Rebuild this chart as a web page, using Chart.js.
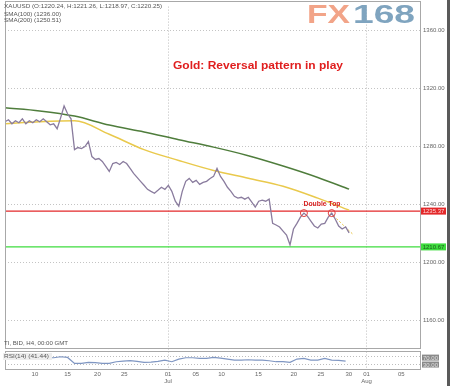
<!DOCTYPE html>
<html>
<head>
<meta charset="utf-8">
<script src="https://cdn.jsdelivr.net/npm/chart.js@4"></script>
<style>
  html, body { margin: 0; padding: 0; background: #fff; }
  canvas { display: block; }
</style>
</head>
<body>
<canvas id="chart" width="450" height="386"></canvas>
<script>
// x axis: one unit = one sample of the H4 series (about 3 bars)
const xTickPos = [8.6, 18.0, 26.6, 34.3, 46.9, 54.9, 62.3, 72.9, 83.1, 90.9, 98.9, 104.0, 114.0];
const xTickDay = ["10", "15", "20", "25", "01", "05", "10", "15", "20", "25", "30", "01", "05"];
const xTickMonth = ["", "", "", "", "Jul", "", "", "", "", "", "", "Aug", ""];
const priceTicks = [1160, 1200, 1240, 1280, 1320, 1360];

// XAUUSD price
const closes = [
  1297.0, 1298.4, 1295.6, 1297.7, 1296.3, 1299.0, 1295.6, 1297.7, 1296.3, 1298.4,
  1297.0, 1299.0, 1297.0, 1294.9, 1295.6, 1292.2, 1299.7, 1307.9, 1302.5, 1299.0,
  1277.8, 1279.2, 1278.5, 1279.9, 1283.3, 1273.0, 1271.0, 1271.6, 1269.6, 1266.2,
  1262.7, 1268.2, 1268.9, 1267.5, 1269.6, 1268.2, 1264.8, 1261.4, 1258.6, 1255.9,
  1253.2, 1250.4, 1249.0, 1247.7, 1249.7, 1251.8, 1250.4, 1253.2, 1249.0, 1242.2,
  1238.8, 1249.0, 1255.9, 1257.9, 1255.2, 1256.6, 1253.8, 1255.2, 1255.9, 1257.9,
  1259.3, 1264.8, 1259.3, 1255.9, 1251.8, 1249.0, 1245.6, 1244.3, 1244.9, 1243.6,
  1244.9, 1241.5, 1238.1, 1242.2, 1242.9, 1242.2, 1243.6, 1226.9, 1225.8, 1224.4,
  1221.6, 1218.9, 1212.1, 1223.0, 1226.9, 1231.2, 1234.0, 1231.9, 1228.5, 1225.1,
  1223.7, 1226.4, 1226.9, 1231.2, 1234.0, 1229.9, 1225.1, 1223.0, 1224.4, 1220.3
];

// moving averages, sampled every 10 samples
const smaIdx = [0, 10, 20, 30, 40, 50, 60, 70, 80, 90, 99];
const sma100 = [1295.6, 1297.0, 1297.7, 1288.4, 1277.8, 1270.3, 1263.4, 1258.0, 1252.5, 1244.3, 1236.0];
const sma200 = [1306.6, 1304.5, 1300.9, 1294.7, 1290.0, 1284.6, 1279.5, 1273.6, 1266.5, 1258.6, 1250.5];

// RSI(14), one value every 2 samples
const rsi = [
  66.7, 66.7, 68.0, 70.0, 73.0, 75.0, 61.7, 61.7, 66.7, 63.3,
  33.3, 33.3, 38.3, 36.7, 33.3, 33.3, 41.7, 45.0, 46.7, 43.3,
  38.3, 40.0, 43.3, 50.0, 41.7, 55.0, 61.7, 61.7, 58.3, 58.3,
  63.3, 60.0, 55.0, 50.0, 50.0, 51.7, 50.0, 50.0, 46.7, 41.7,
  41.7, 38.3, 55.0, 58.3, 50.0, 50.0, 58.3, 50.0, 48.3, 45.0
];

const resistance = 1235.37;
const support = 1210.67;
const doubleTopIdx = [86, 94];
const doubleTopPrice = [1234.0, 1234.0];
const trendIdx = [93.7, 100.3];
const trendPrice = [1234.0, 1218.9];

const xMax = 119.4;
const FONT = '"Liberation Sans", Arial, sans-serif';

// texte ajusté à une largeur donnée
function fitText(ctx, s, x, y, w, font, color, align) {
  ctx.save();
  ctx.font = font;
  ctx.fillStyle = color;
  ctx.textBaseline = "middle";
  ctx.textAlign = "left";
  const m = ctx.measureText(s).width;
  const k = w / m;
  const x0 = align === "center" ? x - w / 2 : x;
  ctx.translate(x0, y);
  ctx.scale(k, 1);
  ctx.fillText(s, 0, 0);
  ctx.restore();
}

function box(ctx, x, y, w, h, bg, s, color) {
  ctx.fillStyle = bg;
  ctx.fillRect(x, y - h / 2, w, h);
  ctx.font = "6px " + FONT;
  ctx.fillStyle = color;
  ctx.textAlign = "center";
  ctx.textBaseline = "middle";
  ctx.fillText(s, x + w / 2, y + 0.5);
}

const overlay = {
  id: "overlay",
  beforeDraw(chart) {
    const ctx = chart.ctx;
    ctx.save();
    ctx.fillStyle = "#fff";
    ctx.fillRect(0, 0, chart.width, chart.height);
    ctx.restore();
  },
  beforeDatasetsDraw(chart) {
    const ctx = chart.ctx;
    const ca = chart.chartArea;
    const r = chart.scales.yR;
    ctx.save();
    ctx.strokeStyle = "#bdbdbd";
    ctx.setLineDash([1, 2]);
    [70, 30].forEach((v) => {
      const y = Math.round(r.getPixelForValue(v)) + 0.5;
      ctx.beginPath();
      ctx.moveTo(ca.left, y);
      ctx.lineTo(ca.right, y);
      ctx.stroke();
    });
    ctx.restore();
  },
  afterDraw(chart) {
    const ctx = chart.ctx;
    const ca = chart.chartArea;
    const y = chart.scales.y;
    const r = chart.scales.yR;
    ctx.save();

    // panneaux
    ctx.strokeStyle = "#a8a8a8";
    ctx.lineWidth = 1;
    const mainBottom = Math.round(r.getPixelForValue(110));
    ctx.strokeRect(ca.left + 0.5, 1.5, ca.right - ca.left, mainBottom - 1);
    const rTop = Math.round(r.getPixelForValue(95));
    const rBot = Math.round(r.getPixelForValue(5));
    ctx.strokeRect(ca.left + 0.5, rTop + 0.5, ca.right - ca.left, rBot - rTop);
    ctx.fillStyle = "#5a5a5a";
    ctx.fillRect(447, 0, 3, chart.height);

    // infos en haut à gauche
    fitText(ctx, "XAUUSD (O:1220.24, H:1221.26, L:1218.97, C:1220.25)", 4, 6.5, 158, "6px " + FONT, "#555");
    fitText(ctx, "SMA(100) (1236.00)", 4, 14, 57, "6px " + FONT, "#555");
    fitText(ctx, "SMA(200) (1250.51)", 4, 20.5, 57, "6px " + FONT, "#555");
    fitText(ctx, "TI, BID, H4, 00:00 GMT", 4, 343.5, 64, "6px " + FONT, "#555");

    // RSI label
    ctx.fillStyle = "#eeeeee";
    ctx.fillRect(3, rTop + 2, 49, 7);
    fitText(ctx, "RSI(14) (41.44)", 4, rTop + 5.5, 45, "6px " + FONT, "#555");

    // logo
    ctx.font = "bold 25px " + FONT;
    ctx.textBaseline = "alphabetic";
    ctx.textAlign = "left";
    let w = ctx.measureText("FX").width;
    ctx.save();
    ctx.translate(307, 23);
    ctx.scale(43 / w, 1);
    ctx.fillStyle = "#f2a488";
    ctx.fillText("FX", 0, 0);
    ctx.restore();
    w = ctx.measureText("168").width;
    ctx.save();
    ctx.translate(353, 23);
    ctx.scale(62 / w, 1);
    ctx.fillStyle = "#7fa4bf";
    ctx.fillText("168", 0, 0);
    ctx.restore();

    // titre
    fitText(ctx, "Gold: Reversal pattern in play", 258, 66, 170, "bold 11px " + FONT, "#e01e1e", "center");
    fitText(ctx, "Double Top", 322, 204, 37, "bold 8px " + FONT, "#d82020", "center");

    // niveaux à droite
    box(ctx, 421, y.getPixelForValue(resistance), 25, 7, "#e3282a", resistance.toFixed(2), "#ffd6d6");
    box(ctx, 421, y.getPixelForValue(support), 25, 7, "#3edc3e", support.toFixed(2), "#1c5c1c");
    box(ctx, 422, r.getPixelForValue(70) + 1.5, 17, 6, "#8a8a8a", "70.00", "#e0e0e0");
    box(ctx, 422, r.getPixelForValue(30) + 0.5, 17, 6, "#8a8a8a", "30.00", "#e0e0e0");
    ctx.restore();
  },
};

const toXY = (xs, ys) => xs.map((x, i) => ({ x: x, y: ys[i] }));
const yMax = 1360 + 24 / 1.46;
const yMin = yMax - 366 / 1.46;

new Chart(document.getElementById("chart"), {
  type: "line",
  data: {
    datasets: [
      {
        data: toXY(doubleTopIdx, doubleTopPrice),
        showLine: false,
        pointRadius: 3.5,
        pointBorderWidth: 1,
        pointBorderColor: "#e04040",
        pointBackgroundColor: "rgba(0,0,0,0)",
      },
      {
        data: closes.map((v, i) => ({ x: i, y: v })),
        borderColor: "#8a7c9e",
        borderWidth: 1.3,
        tension: 0,
      },
      {
        data: toXY(trendIdx, trendPrice),
        borderColor: "#e8c440",
        borderWidth: 1,
        borderDash: [2, 2],
      },
      {
        data: toXY(smaIdx, sma100),
        borderColor: "#e9c94c",
        borderWidth: 1.5,
        cubicInterpolationMode: "monotone",
      },
      {
        data: toXY(smaIdx, sma200),
        borderColor: "#4f7d3c",
        borderWidth: 1.5,
        cubicInterpolationMode: "monotone",
      },
      {
        data: toXY([0, xMax], [resistance, resistance]),
        borderColor: "#e3282a",
        borderWidth: 1.2,
      },
      {
        data: toXY([0, xMax], [support, support]),
        borderColor: "#3edc3e",
        borderWidth: 1.2,
      },
      {
        data: rsi.map((v, k) => ({ x: 2 * k, y: v })),
        yAxisID: "yR",
        borderColor: "#7f96c2",
        borderWidth: 1.2,
      },
    ],
  },
  options: {
    responsive: false,
    animation: false,
    devicePixelRatio: 1,
    layout: { padding: { left: 2, top: 4, right: 0, bottom: 0 } },
    plugins: { legend: { display: false }, tooltip: { enabled: false } },
    elements: { point: { radius: 0 } },
    scales: {
      x: {
        type: "linear",
        min: 0,
        max: xMax,
        afterBuildTicks: (s) => {
          s.ticks = xTickPos.map((v) => ({ value: v }));
        },
        afterFit: (s) => {
          s.height = 16;
        },
        ticks: {
          autoSkip: false,
          maxRotation: 0,
          padding: 1,
          color: "#666",
          font: { family: FONT, size: 6 },
          callback: (v, i) => (xTickMonth[i] ? [xTickDay[i], xTickMonth[i]] : xTickDay[i]),
        },
        grid: {
          drawTicks: false,
          color: (c) => (xTickMonth[c.index] ? "#bdbdbd" : "rgba(0,0,0,0)"),
        },
        border: { display: false, dash: [1, 2] },
      },
      y: {
        position: "right",
        min: yMin,
        max: yMax,
        afterBuildTicks: (s) => {
          s.ticks = priceTicks.map((v) => ({ value: v }));
        },
        afterFit: (s) => {
          s.width = 30;
        },
        ticks: {
          padding: 3,
          color: "#666",
          font: { family: FONT, size: 6 },
          callback: (v) => Number(v).toFixed(2),
        },
        grid: { drawTicks: false, color: "#c4c4c4" },
        border: { display: false, dash: [1, 2] },
      },
      yR: { display: false, min: 0, max: 1830 },
    },
  },
  plugins: [overlay],
});
</script>
</body>
</html>
